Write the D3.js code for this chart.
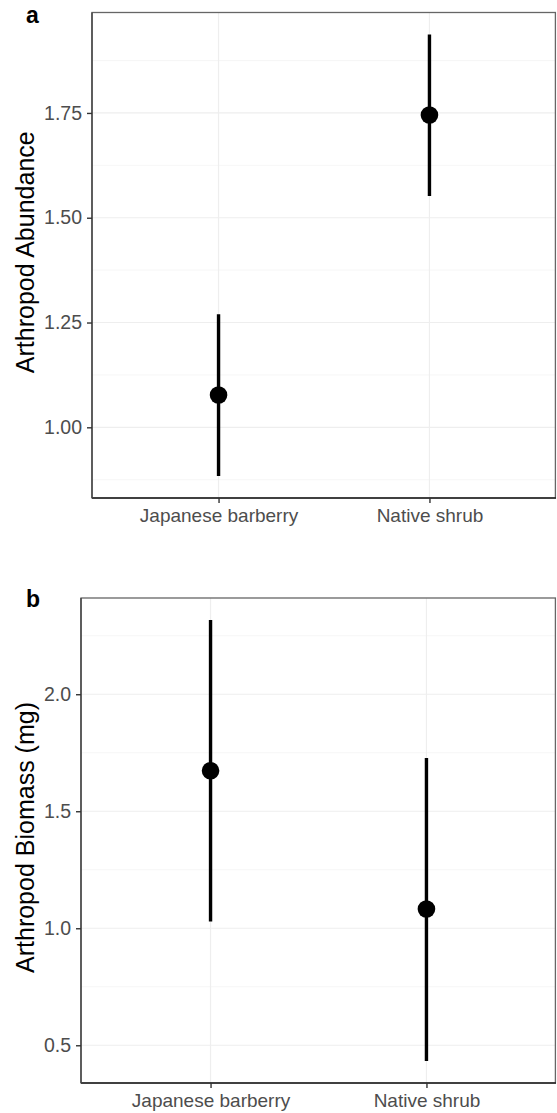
<!DOCTYPE html>
<html>
<head>
<meta charset="utf-8">
<script src="https://cdn.jsdelivr.net/npm/d3@7"></script>
<style>
  html, body { margin: 0; padding: 0; background: #fff; }
  svg { display: block; }
  text { font-family: "Liberation Sans", Arial, sans-serif; }
</style>
</head>
<body>
<svg id="chart" width="557" height="1113"></svg>
<script>
// ---- data ----
const categories = ["Japanese barberry", "Native shrub"];

const abundanceMean  = [1.077, 1.745];
const abundanceLower = [0.884, 1.552];
const abundanceUpper = [1.270, 1.937];
const abundanceTicks = [1.00, 1.25, 1.50, 1.75];

const biomassMean  = [1.673, 1.082];
const biomassLower = [1.029, 0.433];
const biomassUpper = [2.317, 1.728];
const biomassTicks = [0.5, 1.0, 1.5, 2.0];

const panelLabels = ["a", "b"];
const yTitles = ["Arthropod Abundance", "Arthropod Biomass (mg)"];

// ---- drawing ----
const svg = d3.select("#chart");

function drawPanel(opts) {
  const { left, right, top, bottom, mean, lower, upper, ticks, fmt, label, title, labelY } = opts;
  const g = svg.append("g");

  const lo = d3.min(lower), hi = d3.max(upper), span = hi - lo;
  const y = d3.scaleLinear().domain([lo - 0.05 * span, hi + 0.05 * span]).range([bottom, top]);
  const x = d3.scalePoint().domain(categories).range([left, right]).padding(0.6);

  const minor = [];
  const step = ticks[1] - ticks[0];
  for (let i = -1; i < ticks.length; i++) {
    const v = (i < 0 ? ticks[0] - step / 2 : ticks[i] + step / 2);
    if (v > y.domain()[0] && v < y.domain()[1]) minor.push(v);
  }

  g.append("rect").attr("x", left).attr("y", top).attr("width", right - left).attr("height", bottom - top).attr("fill", "#fff");

  g.selectAll(".minor").data(minor).enter().append("line")
    .attr("x1", left).attr("x2", right)
    .attr("y1", d => y(d)).attr("y2", d => y(d))
    .attr("stroke", "#f4f4f4").attr("stroke-width", 0.8);
  g.selectAll(".major").data(ticks).enter().append("line")
    .attr("x1", left).attr("x2", right)
    .attr("y1", d => y(d)).attr("y2", d => y(d))
    .attr("stroke", "#eeeeee").attr("stroke-width", 1.2);
  g.selectAll(".vgrid").data(categories).enter().append("line")
    .attr("x1", d => x(d)).attr("x2", d => x(d))
    .attr("y1", top).attr("y2", bottom)
    .attr("stroke", "#eeeeee").attr("stroke-width", 1.2);

  g.selectAll(".err").data(categories).enter().append("line")
    .attr("x1", d => x(d)).attr("x2", d => x(d))
    .attr("y1", (d, i) => y(lower[i])).attr("y2", (d, i) => y(upper[i]))
    .attr("stroke", "#000").attr("stroke-width", 3.4);
  g.selectAll(".pt").data(categories).enter().append("circle")
    .attr("cx", d => x(d)).attr("cy", (d, i) => y(mean[i]))
    .attr("r", 8.8).attr("fill", "#000");

  g.append("rect").attr("x", left).attr("y", top).attr("width", right - left - 0.6).attr("height", bottom - top)
    .attr("fill", "none").attr("stroke", "#666").attr("stroke-width", 1.3);
  g.append("line").attr("x1", left).attr("x2", right).attr("y1", bottom).attr("y2", bottom)
    .attr("stroke", "#222").attr("stroke-width", 1.6);
  g.append("line").attr("x1", left).attr("x2", left).attr("y1", top).attr("y2", bottom)
    .attr("stroke", "#444").attr("stroke-width", 1.4);

  const yAxis = d3.axisLeft(y).tickValues(ticks).tickFormat(d3.format(fmt)).tickSize(5).tickPadding(5);
  const ya = g.append("g").attr("transform", `translate(${left},0)`).call(yAxis);
  ya.select(".domain").remove();
  ya.selectAll(".tick line").attr("stroke", "#333").attr("stroke-width", 1.4);
  ya.selectAll(".tick text").attr("fill", "#4d4d4d").style("font-size", "19.5px")
    .style("font-family", '"Liberation Sans", Arial, sans-serif');

  const xAxis = d3.axisBottom(x).tickSize(5).tickPadding(6);
  const xa = g.append("g").attr("transform", `translate(0,${bottom})`).call(xAxis);
  xa.select(".domain").remove();
  xa.selectAll(".tick line").attr("stroke", "#333").attr("stroke-width", 1.4);
  xa.selectAll(".tick text").attr("fill", "#4d4d4d").style("font-size", "19px")
    .style("font-family", '"Liberation Sans", Arial, sans-serif');

  g.append("text")
    .attr("transform", `translate(34,${(top + bottom) / 2 - 3}) rotate(-90)`)
    .attr("text-anchor", "middle")
    .attr("fill", "#000")
    .style("font-size", "25px")
    .text(title);

  g.append("text")
    .attr("x", 26).attr("y", labelY)
    .attr("fill", "#000")
    .style("font-size", "23px").style("font-weight", "bold")
    .text(label);
}

drawPanel({
  left: 92, right: 556, top: 12.5, bottom: 498,
  mean: abundanceMean, lower: abundanceLower, upper: abundanceUpper,
  ticks: abundanceTicks, fmt: ".2f",
  label: panelLabels[0], title: yTitles[0], labelY: 23
});

drawPanel({
  left: 81, right: 556, top: 598, bottom: 1083,
  mean: biomassMean, lower: biomassLower, upper: biomassUpper,
  ticks: biomassTicks, fmt: ".1f",
  label: panelLabels[1], title: yTitles[1], labelY: 607
});
</script>
</body>
</html>
